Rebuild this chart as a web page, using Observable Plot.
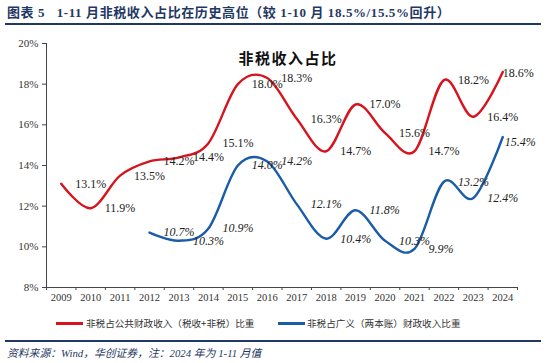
<!DOCTYPE html>
<html>
<head>
<meta charset="utf-8">
<script src="https://cdn.jsdelivr.net/npm/d3@7"></script>
<script src="https://cdn.jsdelivr.net/npm/@observablehq/plot@0.6"></script>
<style>
  body { margin: 0; background: #fff; width: 550px; height: 363px; overflow: hidden; position: relative; }
  .cjk { font-family: "Liberation Serif", "Noto Sans CJK SC", serif; }
  #title { position: absolute; left: 7px; top: 2px; font-weight: bold; font-size: 13px; letter-spacing: 0.6px; color: #1F3864; white-space: nowrap; }
  .rule { position: absolute; left: 5px; width: 536px; height: 2px; background: #1F3864; }
  #chart { position: absolute; left: 0; top: 30px; }
  .leg { position: absolute; top: 316px; font-size: 9.6px; color: #333; white-space: nowrap; font-family: "Noto Sans CJK SC", sans-serif; line-height: 14px; }
  .sw { position: absolute; top: 322px; width: 27px; height: 3px; }
  #source { position: absolute; left: 7px; top: 344px; font-size: 10.8px; font-style: italic; color: #1F3864; white-space: nowrap; }
</style>
</head>
<body>
<div id="title" class="cjk">图表 5&nbsp;&nbsp;&nbsp;1-11 月非税收入占比在历史高位（较 1-10 月 18.5%/15.5%回升）</div>
<div class="rule" style="top:23px"></div>
<div id="chart"></div>
<div class="sw" style="left:56px;background:#D7141E"></div>
<div class="leg" id="leg1" style="left:86px"></div>
<div class="sw" style="left:278px;background:#1A5CA8"></div>
<div class="leg" id="leg2" style="left:307px"></div>
<div class="rule" style="top:340px"></div>
<div id="source" class="cjk">资料来源：Wind，华创证券，注：2024 年为 1-11 月值</div>
<script>
const years = [2009, 2010, 2011, 2012, 2013, 2014, 2015, 2016, 2017, 2018, 2019, 2020, 2021, 2022, 2023, 2024];
const publicShare = [13.1, 11.9, 13.5, 14.2, 14.4, 15.1, 18.0, 18.3, 16.3, 14.7, 17.0, 15.6, 14.7, 18.2, 16.4, 18.6];
const broadYears = [2012, 2013, 2014, 2015, 2016, 2017, 2018, 2019, 2020, 2021, 2022, 2023, 2024];
const broadShare = [10.7, 10.3, 10.9, 14.0, 14.2, 12.1, 10.4, 11.8, 10.3, 9.9, 13.2, 12.4, 15.4];
const yTicks = [8, 10, 12, 14, 16, 18, 20];
const seriesNames = ["非税占公共财政收入（税收+非税）比重", "非税占广义（两本账）财政收入比重"];
const chartTitle = "非税收入占比";

document.getElementById("leg1").textContent = seriesNames[0];
document.getElementById("leg2").textContent = seriesNames[1];

const red = "#D7141E", blue = "#1A5CA8";
const redData = years.map((year, i) => ({year, value: publicShare[i]}));
const blueData = broadYears.map((year, i) => ({year, value: broadShare[i]}));
const lastYear = years[years.length - 1];
const boundaries = d3.range(years[0] - 0.5, lastYear + 1, 1);
const fmt = d => d.value.toFixed(1) + "%";

const chart = Plot.plot({
  width: 550,
  height: 280,
  marginLeft: 46,
  marginRight: 33,
  marginTop: 13,
  marginBottom: 23,
  x: {domain: [years[0] - 0.5, lastYear + 0.5]},
  y: {domain: [8, 20]},
  style: {fontFamily: "Liberation Serif, serif", color: "#333", background: "transparent"},
  marks: [
    Plot.axisY({ticks: yTicks, tickFormat: d => d + "%", tickSize: 4, tickPadding: 4, fontSize: 11, label: null, stroke: "#444"}),
    Plot.ruleX([years[0] - 0.5], {stroke: "#444", strokeWidth: 1}),
    Plot.ruleY([8], {stroke: "#444", strokeWidth: 1}),
    Plot.axisX({ticks: years, tickSize: 0, tickPadding: 6, fontSize: 10.5, tickFormat: d => String(d), label: null}),
    Plot.axisX({ticks: boundaries, tickSize: 3, tickFormat: () => "", label: null, stroke: "#444"}),
    Plot.line(redData, {x: "year", y: "value", curve: "cardinal", stroke: red, strokeWidth: 2.4}),
    Plot.line(blueData, {x: "year", y: "value", curve: "cardinal", stroke: blue, strokeWidth: 2.4}),
    Plot.text(redData, {filter: d => d.year < lastYear, x: "year", y: "value", text: fmt, textAnchor: "start", dx: 14, fontSize: 12, fill: "#222"}),
    Plot.text(redData, {filter: d => d.year === lastYear, x: "year", y: "value", text: fmt, textAnchor: "start", dx: 0, dy: 1, fontSize: 12, fill: "#222"}),
    Plot.text(blueData, {filter: d => d.year < lastYear, x: "year", y: "value", text: fmt, textAnchor: "start", dx: 14, fontSize: 12, fontStyle: "italic", fill: "#222"}),
    Plot.text(blueData, {filter: d => d.year === lastYear, x: "year", y: "value", text: fmt, textAnchor: "start", dx: 2, dy: 5, fontSize: 12, fontStyle: "italic", fill: "#222"}),
    Plot.text([chartTitle], {frameAnchor: "top", dx: 6, dy: 10, fontSize: 15, fontWeight: "bold", fontFamily: "Noto Sans CJK SC", fill: "#111"})
  ]
});
d3.select(chart).selectAll("text").filter(function() { return this.textContent === chartTitle; }).attr("letter-spacing", "1.5px");
document.getElementById("chart").appendChild(chart);
</script>
</body>
</html>
